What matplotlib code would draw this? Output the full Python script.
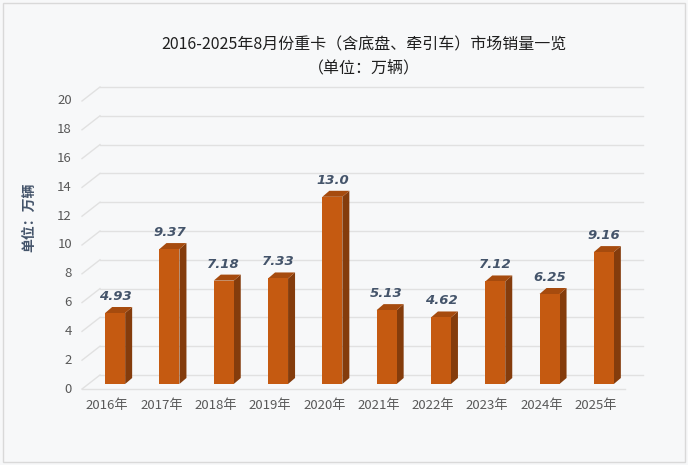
import matplotlib.pyplot as plt
from matplotlib.patches import Polygon, Rectangle

plt.rcParams['font.family'] = ['Noto Sans CJK SC', 'DejaVu Sans']

years = ['2016年', '2017年', '2018年', '2019年', '2020年',
         '2021年', '2022年', '2023年', '2024年', '2025年']
sales = [4.93, 9.37, 7.18, 7.33, 13.0, 5.13, 4.62, 7.12, 6.25, 9.16]
value_labels = ['4.93', '9.37', '7.18', '7.33', '13.0',
                '5.13', '4.62', '7.12', '6.25', '9.16']
yticks = [0, 2, 4, 6, 8, 10, 12, 14, 16, 18, 20]

W, H = 688, 465
fig = plt.figure(figsize=(W / 100, H / 100), dpi=100)
fig.patch.set_facecolor('#f7f8f9')

# front plane of the plot area, in pixels
left_px, right_px, zero_px, top_px = 82, 625, 389, 101
ax = fig.add_axes([left_px / W, (H - zero_px) / H,
                   (right_px - left_px) / W, (zero_px - top_px) / H])
ax.set_xlim(-0.5, len(years) - 0.5)
ax.set_ylim(0, 20)
ax.axis('off')

# pixel -> data unit conversion
px_x = (len(years)) / (right_px - left_px)
px_y = 20 / (zero_px - top_px)

# back wall / floor depth
wall_dx, wall_dy = 18 * px_x, 14 * px_y
grid_col = '#e1e1e1'
for v in yticks:
    ax.plot([-0.5 + wall_dx, len(years) - 0.5 + wall_dx], [v + wall_dy, v + wall_dy],
            color=grid_col, lw=1, clip_on=False)
    ax.plot([-0.5, -0.5 + wall_dx], [v, v + wall_dy], color=grid_col, lw=1, clip_on=False)
    ax.text(-0.5 - 10 * px_x, v, str(v), ha='right', va='center',
            fontsize=9.5, color='#595959')
ax.plot([-0.5, len(years) - 0.5], [0, 0], color=grid_col, lw=1, clip_on=False)

# bars: front face shifted into the floor, with a side and top face
bx, by = 6 * px_x, 5 * px_y
ddx, ddy = 7 * px_x, 6 * px_y
bw = 20 * px_x
for i, v in enumerate(sales):
    x0 = i - bw / 2 + bx
    x1 = x0 + bw
    y0, y1 = by, v + by
    ax.add_patch(Polygon([(x1, y0), (x1 + ddx, y0 + ddy), (x1 + ddx, y1 + ddy), (x1, y1)],
                         closed=True, facecolor='#843c0c', edgecolor='none', zorder=3))
    ax.add_patch(Polygon([(x0, y1), (x0 + ddx, y1 + ddy), (x1 + ddx, y1 + ddy), (x1, y1)],
                         closed=True, facecolor='#a64b0e', edgecolor='none', zorder=3))
    ax.add_patch(Rectangle((x0, y0), bw, v, facecolor='#c55a11', edgecolor='none', zorder=4))
    ax.text(i + bx, y1 + ddy + 4 * px_y, value_labels[i], ha='center', va='bottom',
            fontsize=9.5, fontweight='bold', fontstyle='italic', color='#44546a',
            family='DejaVu Sans', zorder=5)
    ax.text(i - 2 * px_x, -16 * px_y, years[i], ha='center', va='center',
            fontsize=9.5, color='#595959')

fig.text(364 / W, 1 - 45 / H, '2016-2025年8月份重卡（含底盘、牵引车）市场销量一览',
         ha='center', va='center', fontsize=11.5, color='#1f1f1f')
fig.text(364 / W, 1 - 68 / H, '（单位：万辆）', ha='center', va='center',
         fontsize=11.5, color='#1f1f1f')
fig.text(29 / W, 1 - 217 / H, '单位：万辆', rotation=90, ha='center', va='center',
         fontsize=10, fontweight='bold', color='#44546a')

# outer frame
fig.add_artist(Rectangle((3 / W, 3 / H), 682 / W, 459 / H, transform=fig.transFigure,
                         fill=False, edgecolor='#d9d9d9', lw=1))

fig.savefig('out.png', dpi=100, facecolor=fig.get_facecolor())
